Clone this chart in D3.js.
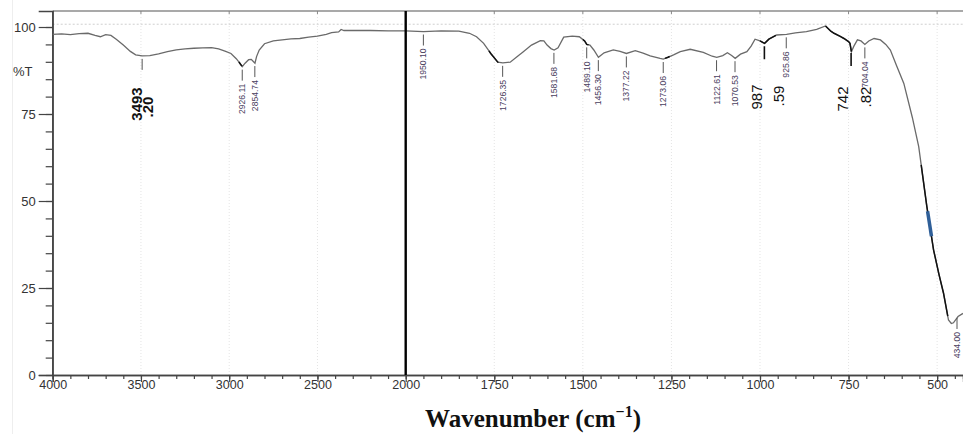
<!DOCTYPE html>
<html>
<head>
<meta charset="utf-8">
<script src="https://cdn.jsdelivr.net/npm/d3@7"></script>
<style>
body { margin: 0; background: #fff; }
text { font-family: "Liberation Sans", Arial, sans-serif; }
</style>
</head>
<body>
<div id="chart"></div>
<script>
// spectrum: wavenumber (cm-1) and %T
var wavenumber = [4000, 3950, 3900, 3850, 3800, 3760, 3730, 3700, 3670, 3640, 3600, 3560, 3530, 3493, 3450, 3400, 3350, 3300,
    3250, 3200, 3150, 3100, 3060, 3020, 2990, 2960, 2940, 2926, 2910, 2890, 2875, 2862, 2854, 2845, 2830, 2800, 2750,
    2700, 2650, 2600, 2550, 2500, 2450, 2420, 2380, 2366, 2350, 2300, 2200, 2100, 2000, 1950, 1900, 1850, 1820, 1800,
    1780, 1760, 1740, 1726, 1705, 1685, 1668, 1645, 1620, 1610, 1601, 1590, 1581, 1570, 1554, 1530, 1510, 1495, 1489,
    1480, 1469, 1456, 1440, 1414, 1395, 1377, 1352, 1330, 1310, 1282, 1273, 1260, 1244, 1225, 1197, 1160, 1135, 1122,
    1105, 1092, 1080, 1070, 1055, 1037, 1025, 1014, 1000, 987, 975, 953, 925, 900, 869, 840, 815, 800, 791, 775, 763,
    750, 746, 742, 735, 725, 715, 704, 693, 678, 660, 645, 632, 615, 594, 570, 552, 529, 510, 495, 482, 468, 460, 454,
    441, 427]
var transmittance = [97.9, 98.0, 97.8, 98.1, 98.2, 97.6, 97.2, 97.8, 97.6, 96.5, 94.8, 93.0, 92.0, 91.7, 91.8, 92.3, 92.9, 93.4,
    93.7, 93.9, 94.0, 94.1, 93.7, 93.0, 92.4, 90.9, 89.6, 88.6, 89.6, 90.6, 90.7, 90.0, 89.6, 91.5, 93.4, 95.2, 96.0,
    96.3, 96.6, 96.7, 97.1, 97.4, 97.9, 98.4, 98.6, 99.3, 99.0, 99.0, 99.0, 98.9, 98.9, 98.7, 98.9, 98.8, 98.2, 97.2,
    95.3, 92.4, 89.9, 89.7, 89.9, 91.5, 92.9, 94.8, 96.1, 96.0, 94.8, 93.8, 93.4, 94.0, 97.1, 97.4, 97.2, 96.0, 95.0,
    94.8, 93.4, 91.3, 92.6, 93.4, 93.0, 92.4, 93.2, 92.5, 91.7, 91.0, 90.8, 91.3, 92.0, 92.9, 93.6, 92.7, 91.6, 91.3,
    91.8, 92.6, 91.8, 91.0, 92.2, 92.9, 94.5, 96.5, 96.0, 95.3, 96.5, 97.7, 97.9, 98.3, 98.7, 99.3, 100.3, 98.8, 98.2, 97.4, 96.7,
    95.8, 95.3, 92.9, 94.5, 96.3, 96.0, 95.0, 96.0, 96.7, 96.3, 95.0, 93.4, 89.0, 83.8, 74.0, 65.6, 48.4, 35.9, 29.0, 23.5, 15.8, 14.8, 15.0,
    16.8, 17.7]

// stretches of the trace that are drawn darker
var darkRanges = [[2945, 2928], [1765, 1738], [1500, 1484], [1268, 1255], [1000, 955], [815, 742], [545, 470]]
var blueRanges = [[527, 516]]

// peak picks
var peaks = [3493.20, 2926.11, 2854.74, 1950.10, 1726.35, 1581.68, 1489.10, 1456.30, 1377.22, 1273.06,
    1122.61, 1070.53, 987.59, 925.86, 742.82, 704.04, 434.00]
// peaks re-labelled by hand in large type
var bigPeaks = [3493.20, 987.59, 742.82]

var xTicks = [4000, 3500, 3000, 2500, 2000, 1750, 1500, 1250, 1000, 750, 500]
var yTicks = [0, 25, 50, 75, 100]

var W = 963, H = 434
var svg = d3.select("#chart").append("svg")
    .attr("width", W)
    .attr("height", H)

// split scale: 4000-2000 compressed, below 2000 doubled
var x = d3.scaleLinear().domain([4000, 2000, 427]).range([52.7, 405.7, 963])
var y = d3.scaleLinear().domain([0, 104.6]).range([375, 11])

var data = wavenumber.map(function (w, i) {
    return {w: w, t: transmittance[i]}
})

function tAt(w) {
    for (var i = 0; i < data.length - 1; i++) {
        var a = data[i], b = data[i + 1]
        if (w <= a.w && w >= b.w) {
            return a.t + (b.t - a.t) * (a.w - w) / (a.w - b.w)
        }
    }
    return data[data.length - 1].t
}

// faint panel edge
svg.append("line")
    .attr("x1", 12.5).attr("x2", 12.5).attr("y1", 0).attr("y2", H)
    .attr("stroke", "#eeeeee")

// dotted grid
svg.append("g").selectAll("line")
    .data(xTicks.slice(1))
    .enter().append("line")
    .attr("x1", function (d) { return x(d) })
    .attr("x2", function (d) { return x(d) })
    .attr("y1", 11).attr("y2", 375)
    .attr("stroke", "#e4e4e4")
    .attr("stroke-dasharray", "1,2")

svg.append("line")
    .attr("x1", 52.7).attr("x2", W).attr("y1", y(100.8)).attr("y2", y(100.8))
    .attr("stroke", "#cfcfcf")
    .attr("stroke-dasharray", "2,2")

// top frame
svg.append("line")
    .attr("x1", 52.7).attr("x2", W).attr("y1", 11).attr("y2", 11)
    .attr("stroke", "#555").attr("stroke-width", 1.2)
svg.append("g").selectAll("line")
    .data(xTicks.slice(1))
    .enter().append("line")
    .attr("x1", function (d) { return x(d) })
    .attr("x2", function (d) { return x(d) })
    .attr("y1", 11).attr("y2", 14)
    .attr("stroke", "#888")

// X axis
var minorX = d3.range(4000, 2000, -100).concat(d3.range(2000, 420, -50))
var xAxis = svg.append("g")
    .attr("transform", "translate(0,375)")
xAxis.call(d3.axisBottom(x).tickValues(minorX).tickSize(4).tickFormat(""))
xAxis.call(function (g) {
    g.append("g").call(d3.axisBottom(x).tickValues(xTicks).tickSize(7).tickPadding(1).tickFormat(d3.format("d")))
})
xAxis.selectAll("path").attr("stroke", "#444").attr("stroke-width", 1.3)
xAxis.selectAll("line").attr("stroke", "#444").attr("stroke-width", 1.2)
xAxis.selectAll("text")
    .attr("fill", "#333")
    .style("font-size", "12.5px")
    .attr("dy", "0.45em")

// Y axis
var yAxis = svg.append("g")
    .attr("transform", "translate(52.7,0)")
yAxis.call(d3.axisLeft(y).tickValues(d3.range(0, 105, 5)).tickSize(7).tickFormat(""))
yAxis.call(function (g) {
    g.append("g").call(d3.axisLeft(y).tickValues(yTicks).tickSize(14).tickPadding(3))
})
yAxis.select("path").attr("d", "M0,11V375")
yAxis.selectAll("path").attr("stroke", "#444").attr("stroke-width", 1.3)
yAxis.selectAll("line").attr("stroke", "#444").attr("stroke-width", 1.2)
yAxis.selectAll("text")
    .attr("fill", "#333")
    .style("font-size", "13px")

svg.append("text")
    .attr("x", 13).attr("y", 76)
    .attr("fill", "#333")
    .style("font-size", "13px")
    .text("%T")

// spectrum
var valueline = d3.line()
    .x(function (d) { return x(d.w) })
    .y(function (d) { return y(d.t) })

svg.append("path")
    .datum(data)
    .attr("fill", "none")
    .attr("stroke", "#6a6a6a")
    .attr("stroke-width", 1.3)
    .attr("d", valueline)

function segment(r) {
    var pts = data.filter(function (d) { return d.w <= r[0] && d.w >= r[1] })
    return [{w: r[0], t: tAt(r[0])}].concat(pts).concat([{w: r[1], t: tAt(r[1])}])
}

svg.append("g").selectAll("path")
    .data(darkRanges)
    .enter().append("path")
    .attr("fill", "none")
    .attr("stroke", "#111")
    .attr("stroke-width", 1.5)
    .attr("d", function (r) { return valueline(segment(r)) })

svg.append("g").selectAll("path")
    .data(blueRanges)
    .enter().append("path")
    .attr("fill", "none")
    .attr("stroke", "#2f5f98")
    .attr("stroke-width", 3.5)
    .attr("d", function (r) { return valueline(segment(r)) })

// 2000 cm-1 marker
svg.append("line")
    .attr("x1", x(2000)).attr("x2", x(2000))
    .attr("y1", 11).attr("y2", 375)
    .attr("stroke", "#000")
    .attr("stroke-width", 2.4)

// peak picks
function isBig(d) {
    return bigPeaks.indexOf(d) >= 0 && d < 1000
}
var picks = svg.append("g").selectAll("g")
    .data(peaks)
    .enter().append("g")
    .attr("transform", function (d) {
        // last pick sits against the right edge, nudged inside
        var px = Math.min(x(d), W - 6)
        return "translate(" + px + "," + y(tAt(d)) + ")"
    })

picks.append("line")
    .attr("y1", 3)
    .attr("y2", function (d) { return isBig(d) ? 16 : 14 })
    .attr("stroke", function (d) { return isBig(d) ? "#111" : "#555" })
    .attr("stroke-width", function (d) { return isBig(d) ? 1.6 : 1 })

picks.filter(function (d) { return bigPeaks.indexOf(d) < 0 })
    .append("text")
    .attr("transform", "translate(0,17) rotate(-90)")
    .attr("text-anchor", "end")
    .attr("dy", "0.35em")
    .attr("fill", "#4a4060")
    .style("font-size", "8.6px")
    .text(function (d) { return d.toFixed(2) })

// hand-written large labels, integer and decimal parts apart
var bigStyle = [
    {dxInt: -5, dxDec: 6, yInt: 104, yDec: 107, weight: "bold"},
    {dxInt: -8, dxDec: 14, yInt: 97, yDec: 96, weight: "normal"},
    {dxInt: -8, dxDec: 15, yInt: 99, yDec: 97, weight: "normal"}
]
bigPeaks.forEach(function (p, i) {
    var s = bigStyle[i]
    var parts = p.toFixed(2).split(".")
    svg.append("text")
        .attr("transform", "translate(" + (x(p) + s.dxInt) + "," + s.yInt + ") rotate(-90)")
        .attr("text-anchor", "middle")
        .attr("dy", "0.35em")
        .attr("fill", "#111")
        .style("font-size", "15px")
        .style("font-weight", s.weight)
        .text(parts[0])
    svg.append("text")
        .attr("transform", "translate(" + (x(p) + s.dxDec) + "," + s.yDec + ") rotate(-90)")
        .attr("text-anchor", "middle")
        .attr("dy", "0.35em")
        .attr("fill", "#111")
        .style("font-size", "15px")
        .style("font-weight", s.weight)
        .text("." + parts[1])
})

// axis title
var title = svg.append("text")
    .attr("x", 533).attr("y", 427)
    .attr("text-anchor", "middle")
    .style("font-family", "'Liberation Serif', 'Times New Roman', serif")
    .style("font-size", "25px")
    .style("font-weight", "bold")
    .attr("fill", "#111")
title.append("tspan").text("Wavenumber (cm")
title.append("tspan").attr("dy", -10).style("font-size", "16px").text("\u22121")
title.append("tspan").attr("dy", 10).text(")")
</script>
</body>
</html>
